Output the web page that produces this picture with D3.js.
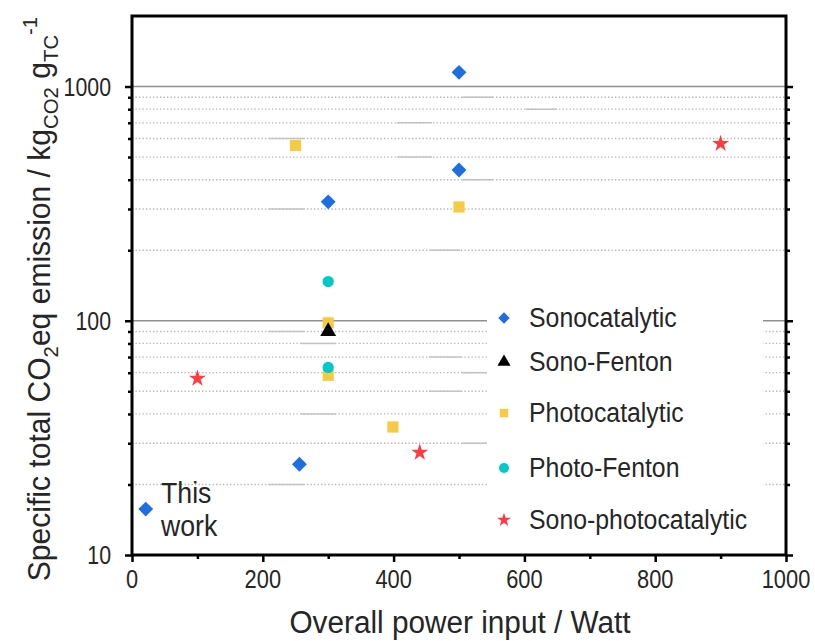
<!DOCTYPE html>
<html>
<head>
<meta charset="utf-8">
<script src="https://cdn.jsdelivr.net/npm/d3@7"></script>
<style>
  html, body { margin: 0; padding: 0; background: #fff; }
  svg text { font-family: Arial, "Liberation Sans", sans-serif; fill: #262626; }
</style>
</head>
<body>
<svg id="chart" width="815" height="641"></svg>
<script>
// ---------------- data ----------------
const seriesNames = ["Sonocatalytic", "Sono-Fenton", "Photocatalytic", "Photo-Fenton", "Sono-photocatalytic"];
const seriesColors = ["#1d6ee0", "#000000", "#f7ca45", "#00c9cc", "#ff3b40"];

const sonocatalyticX = [500, 500, 300, 256, 21];
const sonocatalyticY = [1150, 440, 322, 24.4, 15.7];
const sonoFentonX = [300];
const sonoFentonY = [90];
const photocatalyticX = [250, 500, 300, 300, 399];
const photocatalyticY = [560, 306, 98, 58.5, 35.2];
const photoFentonX = [300, 300];
const photoFentonY = [147, 63.2];
const sonoPhotocatalyticX = [100, 440, 900];
const sonoPhotocatalyticY = [56.7, 27.4, 570];

const xTicks = [0, 200, 400, 600, 800, 1000];
const xMinorTicks = [100, 300, 500, 700, 900];
const yTicks = [10, 100, 1000];
const yMinorTicks = [20, 30, 40, 50, 60, 70, 80, 90, 200, 300, 400, 500, 600, 700, 800, 900];
// short solid segments overlaying the dotted minor gridlines in the original: [value, fromW, toW]
const gridSegments = [
  [900, 505, 552], [800, 602, 650], [700, 405, 459], [600, 209, 263], [500, 405, 459],
  [400, 505, 552], [300, 209, 263], [200, 456, 502],
  [90, 209, 263], [80, 258, 312], [70, 454, 503], [60, 505, 545], [50, 454, 503],
  [40, 258, 312], [30, 505, 545], [20, 209, 263]
];
const annotationLines = ["This", "work"];
const xTitle = "Overall power input / Watt";

// ---------------- layout ----------------
const svg = d3.select("#chart");
const L = 132, R = 786, T = 16, B = 555;
const x = d3.scaleLinear().domain([0, 1000]).range([L, R]);
const y = d3.scaleLog().domain([10, 2000]).range([B, T]);

function sText(g, tx, ty, str, size, anchor, sx) {
  return g.append("text")
    .attr("transform", `translate(${tx},${ty}) scale(${sx},1)`)
    .attr("font-size", size)
    .attr("text-anchor", anchor || "start")
    .text(str);
}

// gridlines
const grid = svg.append("g");
grid.selectAll("line.minor").data(yMinorTicks).join("line")
  .attr("x1", L).attr("x2", R)
  .attr("y1", d => y(d)).attr("y2", d => y(d))
  .attr("stroke", "#b5b5b5").attr("stroke-width", 1.3)
  .attr("stroke-dasharray", "1.3,2.2");
grid.selectAll("line.seg").data(gridSegments).join("line")
  .attr("x1", d => x(d[1])).attr("x2", d => x(d[2]))
  .attr("y1", d => y(d[0])).attr("y2", d => y(d[0]))
  .attr("stroke", "#c4c4c4").attr("stroke-width", 1.6);
grid.selectAll("line.major").data([100, 1000]).join("line")
  .attr("x1", L).attr("x2", R)
  .attr("y1", d => y(d)).attr("y2", d => y(d))
  .attr("stroke", "#8f8f8f").attr("stroke-width", 1.6);

// legend background (covers gridlines)
svg.append("rect").attr("x", 487).attr("y", 296).attr("width", 276).attr("height", 252).attr("fill", "#fff");

// axes ticks
function styleAxis(g) {
  g.select(".domain").remove();
  g.selectAll(".tick line").attr("stroke", "#000").attr("stroke-width", 2.5);
  g.selectAll(".tick text").remove();
}
const xAxisMajor = svg.append("g").attr("transform", `translate(0,${B})`)
  .call(d3.axisBottom(x).tickValues(xTicks).tickSize(7).tickFormat(""));
styleAxis(xAxisMajor);
const xAxisMinor = svg.append("g").attr("transform", `translate(0,${B})`)
  .call(d3.axisBottom(x).tickValues(xMinorTicks).tickSize(4).tickFormat(""));
styleAxis(xAxisMinor);
const yAxisMajor = svg.append("g").attr("transform", `translate(${L},0)`)
  .call(d3.axisLeft(y).tickValues(yTicks).tickSize(7).tickFormat(""));
styleAxis(yAxisMajor);
const yAxisMinor = svg.append("g").attr("transform", `translate(${L},0)`)
  .call(d3.axisLeft(y).tickValues(yMinorTicks).tickSize(4).tickFormat(""));
styleAxis(yAxisMinor);
const yAxisRMajor = svg.append("g").attr("transform", `translate(${R},0)`)
  .call(d3.axisLeft(y).tickValues(yTicks).tickSize(-7).tickFormat(""));
styleAxis(yAxisRMajor);
const yAxisRMinor = svg.append("g").attr("transform", `translate(${R},0)`)
  .call(d3.axisLeft(y).tickValues(yMinorTicks).tickSize(-4).tickFormat(""));
styleAxis(yAxisRMinor);

// frame
svg.append("rect").attr("x", L).attr("y", T).attr("width", R - L).attr("height", B - T)
  .attr("fill", "none").attr("stroke", "#000").attr("stroke-width", 3);

// tick labels
const labels = svg.append("g");
xTicks.forEach(v => sText(labels, x(v), 588, String(v), 26, "middle", 0.84));
yTicks.forEach(v => sText(labels, 111, y(v) + 9, String(v), 26, "end", 0.82));

// axis titles
sText(svg, 460, 633, xTitle, 31, "middle", 0.96);
const yt = svg.append("text")
  .attr("transform", `translate(50,299) rotate(-90) scale(0.97,1)`)
  .attr("font-size", 31).attr("text-anchor", "middle");
yt.append("tspan").text("Specific total CO");
yt.append("tspan").attr("font-size", 21).attr("dy", 8).text("2");
yt.append("tspan").attr("dy", -8).text("eq emission / kg");
yt.append("tspan").attr("font-size", 21).attr("dy", 8).text("CO2");
yt.append("tspan").attr("dy", -8).text(" g");
yt.append("tspan").attr("font-size", 21).attr("dy", 8).text("TC");
yt.append("tspan").attr("font-size", 21).attr("dy", -21).text("-1");

// markers
const shapes = [
  { type: d3.symbolSquare, size: 110, rot: 45, lsize: 65 },
  { type: d3.symbolTriangle, size: 110, rot: 0, lsize: 75 },
  { type: d3.symbolSquare, size: 125, rot: 0, lsize: 72 },
  { type: d3.symbolCircle, size: 100, rot: 0, lsize: 78 },
  { type: d3.symbolStar, size: 90, rot: 0, lsize: 60 }
];
const seriesData = [
  d3.zip(sonocatalyticX, sonocatalyticY),
  d3.zip(sonoFentonX, sonoFentonY),
  d3.zip(photocatalyticX, photocatalyticY),
  d3.zip(photoFentonX, photoFentonY),
  d3.zip(sonoPhotocatalyticX, sonoPhotocatalyticY)
];
const drawOrder = [2, 3, 1, 0, 4];
drawOrder.forEach(i => {
  const sh = shapes[i];
  svg.append("g").selectAll("path").data(seriesData[i]).join("path")
    .attr("d", d3.symbol().type(sh.type).size(sh.size))
    .attr("transform", d => `translate(${x(d[0])},${y(d[1])}) rotate(${sh.rot})`)
    .attr("fill", seriesColors[i]);
});

// annotation
sText(svg, 161, 503, annotationLines[0], 29, "start", 0.92);
sText(svg, 161, 536, annotationLines[1], 29, "start", 0.92);

// legend
const legendRowY = [318, 362, 413, 468, 520];
const lg = svg.append("g");
seriesNames.forEach((name, i) => {
  const sh = shapes[i];
  lg.append("path")
    .attr("d", d3.symbol().type(sh.type).size(sh.lsize))
    .attr("transform", `translate(504,${legendRowY[i]}) rotate(${sh.rot})`)
    .attr("fill", seriesColors[i]);
  sText(lg, 529, legendRowY[i] + 9, name, 27, "start", 0.92);
});
</script>
</body>
</html>
